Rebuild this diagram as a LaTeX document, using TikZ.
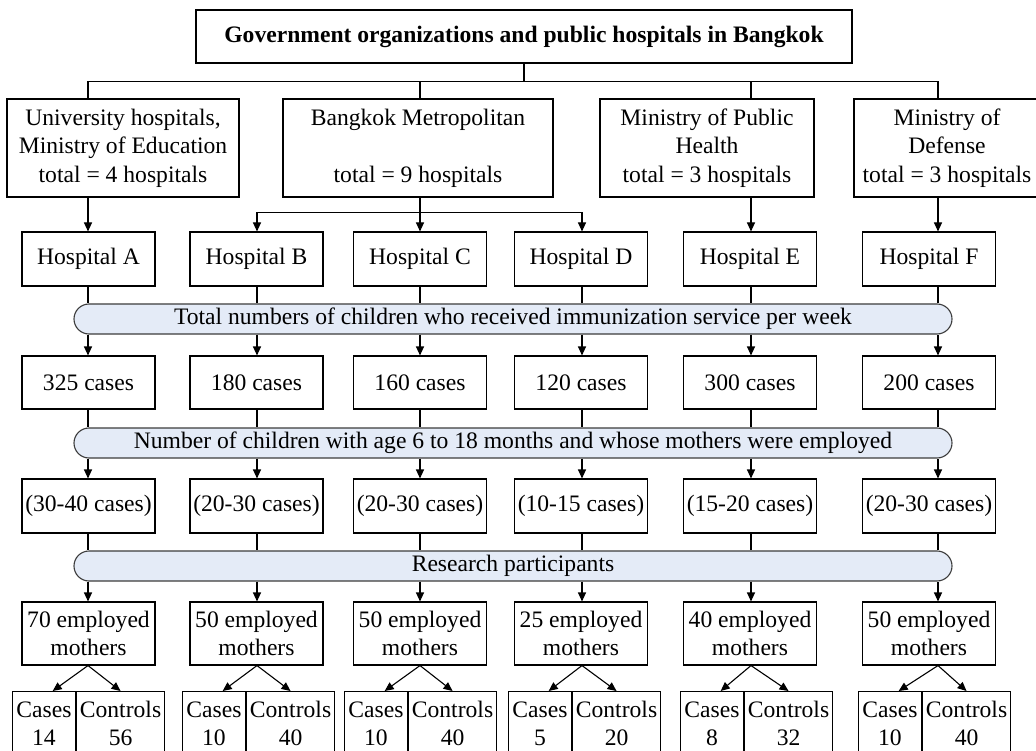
\documentclass[tikz,border=0pt]{standalone}
\usepackage{fontspec}
\setmainfont{Liberation Serif}
\usetikzlibrary{arrows.meta,positioning}
\definecolor{bandblue}{RGB}{228,235,247}
\definecolor{bandline}{RGB}{60,60,60}
\tikzset{
  box/.style={draw,line width=1.1pt,inner sep=2pt,align=center,minimum width=133pt},
  band/.style={draw=bandline,fill=bandblue,line width=1.1pt,rounded corners=15pt,minimum width=878pt,minimum height=30pt,inner sep=0pt},
  conn/.style={line width=1.1pt},
  arr/.style={conn,-{Triangle[length=9pt,width=8pt]}},
}
\begin{document}
\begin{tikzpicture}[x=1pt,y=-1pt,font=\fontsize{23.6}{28.4}\selectfont]
\useasboundingbox (0,0) rectangle (1036,751);
\clip (0,0) rectangle (1036,751);
% top and the four owners
\node[box,minimum width=656pt,minimum height=53pt,font=\fontsize{23.6}{28.4}\selectfont\bfseries] (top) at (524,36.5) {Government organizations and public hospitals in Bangkok};
\node[box,minimum width=232pt,minimum height=98pt] (univ) at (123,148) {University hospitals,\\Ministry of Education\\total = 4 hospitals};
\node[box,minimum width=270pt,minimum height=98pt] (bma) at (418,148) {Bangkok Metropolitan\\[28.4pt]total = 9 hospitals};
\node[box,minimum width=214pt,minimum height=98pt] (moph) at (707,148) {Ministry of Public\\Health\\total = 3 hospitals};
\node[box,minimum width=186pt,minimum height=98pt] (mod) at (947,148) {Ministry of\\Defense\\total = 3 hospitals};
% the three bands
\node[band] (band1) at (513,319) {Total numbers of children who received immunization service per week};
\node[band] (band2) at (513,443) {Number of children with age 6 to 18 months and whose mothers were employed};
\node[band] (band3) at (513,566) {Research participants};
% one column per hospital
\foreach \id/\cx/\bx/\num/\rng/\mom/\cs/\ct/\dv in {
    A/88/88.5/325/30-40/70/14/56/76,
    B/257/256.5/180/20-30/50/10/40/246,
    C/420/420/160/20-30/50/10/40/408,
    D/582/581/120/10-15/25/5/20/572,
    E/751/750/300/15-20/40/8/32/744,
    F/938/929/200/20-30/50/10/40/922}{
  \coordinate (col\id) at (\cx,0);
  \node[box,minimum height=54pt] (hosp\id) at (\bx,259) {Hospital \id};
  \node[box,minimum height=53pt] (num\id) at (\bx,382.5) {\num\ cases};
  \node[box,minimum height=54pt] (rng\id) at (\bx,506) {(\rng\ cases)};
  \node[box,minimum height=63pt] (mom\id) at (\bx,633.5) {\mom\ employed\\mothers};
  \node[box,minimum width=63pt,minimum height=64pt,anchor=north east] (cas\id) at (\dv,691) {Cases\\\cs};
  \node[box,minimum width=88pt,minimum height=64pt,anchor=north west] (ctl\id) at (\dv,691) {Controls\\\ct};
  \draw[conn] (hosp\id.south -| col\id) -- (band1.north -| col\id);
  \draw[arr] (band1.south -| col\id) -- (num\id.north -| col\id);
  \draw[conn] (num\id.south -| col\id) -- (band2.north -| col\id);
  \draw[arr] (band2.south -| col\id) -- (rng\id.north -| col\id);
  \draw[conn] (rng\id.south -| col\id) -- (band3.north -| col\id);
  \draw[arr] (band3.south -| col\id) -- (mom\id.north -| col\id);
  \draw[arr] (mom\id.south -| col\id) -- (cas\id.75);
  \draw[arr] (mom\id.south -| col\id) -- (ctl\id.north);
}
% owners to hospitals
\draw[conn] (top.south) -- ++(0,18) coordinate (bus);
\draw[conn] (univ.north -| colA) |- (bus) -| (mod.north -| colF);
\draw[conn] (bus -| colC) -- (bma.north -| colC);
\draw[conn] (bus -| colE) -- (moph.north -| colE);
\draw[arr] (univ.south -| colA) -- (hospA.north -| colA);
\draw[conn] (bma.south -| colC) -- ++(0,15) coordinate (bbus);
\draw[arr] (bbus) -- (hospC.north -| colC);
\draw[arr] (bbus) -| (hospB.north -| colB);
\draw[arr] (bbus) -| (hospD.north -| colD);
\draw[arr] (moph.south -| colE) -- (hospE.north -| colE);
\draw[arr] (mod.south -| colF) -- (hospF.north -| colF);
\end{tikzpicture}
\end{document}
